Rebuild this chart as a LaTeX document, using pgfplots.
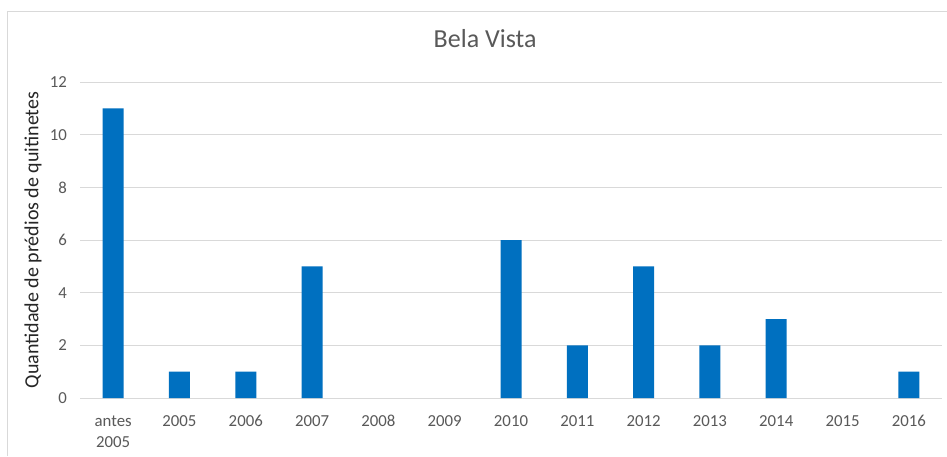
\documentclass[border=0pt]{standalone}
\usepackage{pgfplots}
\pgfplotsset{compat=1.18}
\usepackage{fontspec}
\setmainfont{Carlito}
\definecolor{barblue}{RGB}{0,112,192}
\definecolor{gridgray}{RGB}{217,217,217}
\definecolor{ticktext}{RGB}{89,89,89}
\definecolor{labeltext}{RGB}{38,38,38}
\begin{document}
\begin{tikzpicture}
\useasboundingbox (0,0) rectangle (947pt,456pt);
\fill[white] (0,0) rectangle (947pt,456pt);
\draw[gridgray, line width=1pt] (7pt,0pt) -- (7pt,444pt) -- (947pt,444pt);
\begin{axis}[
  at={(80pt,58pt)}, anchor=south west,
  scale only axis,
  width=862pt, height=316pt,
  xmin=-0.5, xmax=12.5,
  ymin=0, ymax=12,
  ytick={0,2,4,6,8,10,12},
  xtick={0,1,2,3,4,5,6,7,8,9,10,11,12},
  xticklabels={{antes\\2005},2005,2006,2007,2008,2009,2010,2011,2012,2013,2014,2015,2016},
  /pgf/number format/assume math mode=true,
  axis line style={draw=none},
  axis x line*=bottom,
  x axis line style={draw=gridgray, line width=1pt},
  tick style={draw=none},
  ymajorgrids,
  grid style={gridgray, line width=1pt},
  xticklabel style={align=center, text=ticktext, font=\fontsize{16.8}{21}\selectfont, inner sep=0pt, yshift=-13pt},
  yticklabel style={text=ticktext, font=\fontsize{16.8}{20}\selectfont, inner sep=0pt, xshift=-13pt},
  ylabel={Quantidade de prédios de quitinetes},
  ylabel style={at={(axis description cs:-0.0545,0.5)}, anchor=center, rotate=0, text=labeltext, font=\fontsize{20}{24}\selectfont},
  title={Bela Vista},
  title style={at={(axis description cs:0.470,1.09)}, anchor=base, text=ticktext, font=\fontsize{26}{30}\selectfont},
  ybar, bar width=21pt,
  clip=false,
]
\addplot[fill=barblue, draw=none, restrict y to domain=0.01:20] coordinates {
(0,11) (1,1) (2,1) (3,5) (4,0) (5,0) (6,6) (7,2) (8,5) (9,2) (10,3) (11,0) (12,1)
};
\end{axis}
\end{tikzpicture}
\end{document}
